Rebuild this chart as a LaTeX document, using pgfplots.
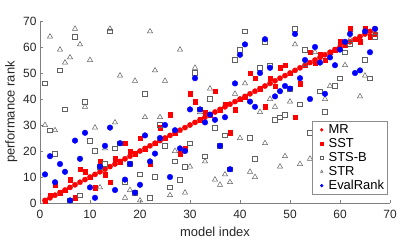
\documentclass[border=0pt]{standalone}
\usepackage{fontspec}
\setmainfont{Liberation Sans}
\usepackage{pgfplots}
\pgfplotsset{compat=1.18}
\definecolor{mgray}{rgb}{0.38,0.38,0.38}
\begin{document}
\begin{tikzpicture}
\begin{axis}[
  scale only axis, width=350bp, height=182bp,
  xmin=0, xmax=70, ymin=0, ymax=70,
  axis lines*=left,
  tick align=inside,
  xtick={0,10,...,70}, ytick={0,10,...,70},
  major tick length=3bp,
  axis line style={draw=black!50, line width=0.5bp},
  tick style={draw=black!50, line width=0.5bp},
  /pgf/number format/assume math mode=true,
  ticklabel style={font=\fontsize{12}{12}\selectfont, text=black!85},
  xticklabel style={yshift=-4bp},
  xlabel={model index}, ylabel={performance rank},
  label style={font=\fontsize{13}{13}\selectfont, text=black!85},
  xlabel style={at={(axis description cs:0.5,-0.158)}, anchor=center},
  ylabel style={at={(axis description cs:-0.082,0.5)}, anchor=center, rotate=0},
  legend style={at={(axis description cs:0.994,0.044)}, anchor=south east,
    draw=black!45, line width=0.5bp, font=\fontsize{13}{13}\selectfont,
    inner sep=2bp, row sep=0.2bp,
    nodes={inner sep=1.6bp, text=black}},
  legend cell align=left,
  legend image code/.code={\path (0bp,0bp) (12bp,0bp); \draw[#1, mark size=1.4bp] plot coordinates {(7bp,0bp)};},
]
% MR
\addplot[only marks, mark=*, mark size=2.6bp, draw=red, fill=red] coordinates {
(1,1)(2,2)(3,3)(4,4)(5,5)(6,6)(7,7)(8,8)(9,9)(10,10)(11,11)(12,12)(13,13)(14,14)(15,15)(16,16)(17,17)(18,18)(19,19)(20,20)
(21,21)(22,22)(23,23)(24,24)(25,25)(26,26)(27,27)(28,28)(29,29)(30,30)(31,31)(32,32)(33,33)(34,34)(35,35)(36,36)(37,37)(38,38)(39,39)(40,40)
(41,41)(42,42)(43,43)(44,44)(45,45)(46,46)(47,47)(48,48)(49,49)(50,50)(51,51)(52,52)(53,53)(54,54)(55,55)(56,56)(57,57)(58,58)(59,59)(60,60)
(61,61)(62,62)(63,63)(64,64)(65,65)(66,66)(67,67)};
\addlegendentry{MR}
% SST
\addplot[only marks, mark=square*, mark size=2.3bp, draw=red, fill=red] coordinates {
(1,1)(2,3)(3,7)(4,4)(5,5)(6,9)(7,2)(8,13)(9,12)(10,10)(11,6)(12,16)(13,11)(14,8)(15,17)(16,16)(17,23)(18,20)(19,19)(20,25)
(21,21)(22,15)(23,23)(24,29)(25,25)(26,34)(27,27)(28,19)(29,21)(30,42)(31,39)(32,32)(33,35)(34,34)(35,43)(36,36)(37,38)(38,27)(39,36)(40,40)
(41,41)(42,50)(43,48)(44,44)(45,37)(46,48)(47,45)(48,52)(49,53)(50,50)(51,33)(52,46)(53,53)(54,58)(55,54)(56,57)(57,55)(58,58)(59,59)(60,62)
(61,61)(62,67)(63,63)(64,62)(65,67)(66,64)(67,65)};
\addlegendentry{SST}
% STS-B
\addplot[only marks, mark=square, mark size=2.3bp, draw=mgray, line width=0.5bp] coordinates {
(1,46)(2,28)(3,19)(4,51)(5,36)(6,1)(7,64)(8,3)(9,39)(10,24)(11,20)(12,14)(13,15)(14,66)(15,21)(16,23)(17,8)(18,15)(19,4)(20,11)
(21,42)(22,2)(23,10)(24,30)(25,22)(26,6)(27,16)(28,9)(29,14)(30,23)(31,50)(32,36)(33,18)(34,40)(35,29)(36,22)(37,26)(38,13)(39,55)(40,59)
(41,66)(42,25)(43,17)(44,52)(45,62)(46,53)(47,32)(48,33)(49,34)(50,44)(51,67)(52,38)(53,59)(54,27)(55,12)(56,43)(57,35)(58,20)(59,45)(60,48)
(61,58)(62,61)(63,5)(64,25)(65,55)(66,48)(67,64)};
\addlegendentry{STS-B}
% STR
\addplot[only marks, mark=triangle, mark size=3bp, draw=mgray, line width=0.5bp] coordinates {
(1,30)(2,64)(3,28)(4,59)(5,54)(6,56)(7,67)(8,61)(9,37)(10,55)(11,29)(12,6)(13,21)(14,67)(15,31)(16,49)(17,2)(18,5)(19,47)(20,1)
(21,33)(22,66)(23,51)(24,33)(25,47)(26,3)(27,20)(28,59)(29,4)(30,14)(31,52)(32,35)(33,16)(34,44)(35,9)(36,7)(37,11)(38,8)(39,42)(40,25)
(41,46)(42,12)(43,10)(44,35)(45,23)(46,40)(47,37)(48,14)(49,18)(50,39)(51,61)(52,15)(53,53)(54,17)(55,58)(56,10)(57,40)(58,45)(59,24)(60,20)
(61,53)(62,63)(63,8)(64,41)(65,49)(66,27)(67,66)};
\addlegendentry{STR}
% EvalRank
\addplot[only marks, mark=*, mark size=2.8bp, draw=blue, fill=blue] coordinates {
(1,11)(2,18)(3,8)(4,15)(5,12)(6,1)(7,24)(8,17)(9,27)(10,6)(11,2)(12,14)(13,22)(14,29)(15,5)(16,23)(17,9)(18,15)(19,4)(20,7)
(21,26)(22,16)(23,19)(24,25)(25,30)(26,10)(27,28)(28,21)(29,20)(30,36)(31,48)(32,36)(33,31)(34,34)(35,32)(36,22)(37,33)(38,13)(39,46)(40,57)
(41,61)(42,39)(43,37)(44,50)(45,63)(46,52)(47,41)(48,43)(49,45)(50,44)(51,65)(52,48)(53,55)(54,40)(55,60)(56,54)(57,42)(58,56)(59,53)(60,59)
(61,62)(62,65)(63,50)(64,51)(65,66)(66,58)(67,67)};
\addlegendentry{EvalRank}
\end{axis}
\path ([shift={(-40bp,-38bp)}]current axis.south west) rectangle ([shift={(25bp,21bp)}]current axis.north east);
\end{tikzpicture}
\end{document}
